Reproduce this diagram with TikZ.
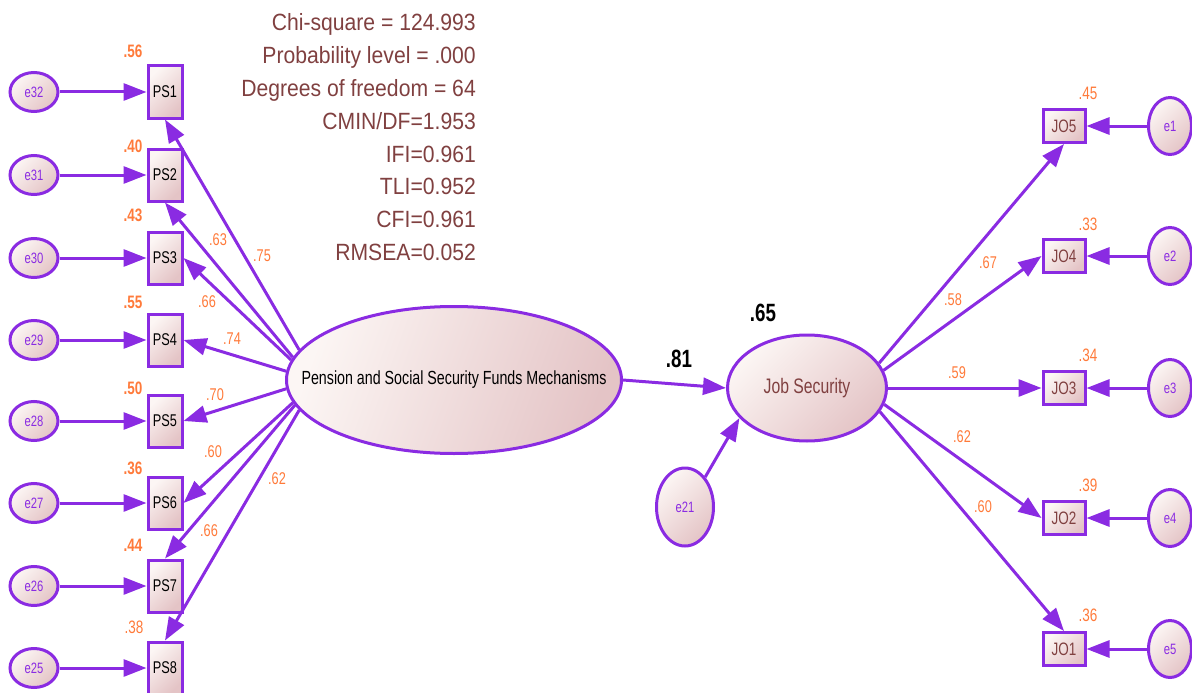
\documentclass[tikz,border=0pt]{standalone}
\usepackage{fontspec}
\setmainfont{Liberation Sans}
\newfontfamily\amos[FakeStretch=0.75]{Liberation Sans}
\newfontfamily\amosstat[FakeStretch=0.9]{Liberation Sans}
\usetikzlibrary{arrows.meta,shapes.geometric}
\newcommand\fsz[1]{\fontsize{#1}{#1}\selectfont}
\definecolor{amospurple}{RGB}{138,43,226}
\definecolor{amosorange}{RGB}{255,122,58}
\definecolor{amosbrown}{RGB}{128,64,64}
\definecolor{shadelight}{RGB}{252,246,244}
\definecolor{shadedark}{RGB}{228,196,198}
\tikzset{
  shadefill/.style={top color=shadelight, bottom color=shadedark, shading angle=45},
  obsbox/.style={rectangle, draw=amospurple, line width=3pt, shadefill, inner sep=0pt,
    minimum width=34pt, minimum height=52pt, text=black, font=\amos\fsz{17}},
  jobox/.style={obsbox, minimum width=42pt, minimum height=33pt, text=amosbrown, font=\amos\fsz{18}},
  errl/.style={ellipse, draw=amospurple, line width=3pt, shadefill, inner sep=0pt,
    minimum width=48pt, minimum height=39pt, text=amospurple, font=\amos\fsz{15}},
  errr/.style={errl, minimum width=43pt, minimum height=57pt},
  latent/.style={ellipse, draw=amospurple, line width=3pt, inner sep=0pt},
  link/.style={draw=amospurple, line width=3pt, -{Triangle[length=23pt,width=17pt]}},
  rsq/.style={text=amosorange, inner sep=0pt, font=\amos\bfseries\fsz{18}},
  rsqr/.style={text=amosorange, inner sep=0pt, font=\amos\fsz{18}},
  wt/.style={text=amosorange, inner sep=0pt, font=\amos\fsz{17}},
  bigwt/.style={text=black, inner sep=0pt, font=\amos\bfseries\fsz{25}},
  stat/.style={text=amosbrown, inner sep=0pt, anchor=base east, font=\amosstat\fsz{23.5}},
}
\begin{document}
\begin{tikzpicture}[x=1pt,y=-1pt]
\useasboundingbox (0,0) rectangle (1192,693);
\clip (0,0) rectangle (1192,693);

% fit statistics
\node[stat] (s1) at (476,31)  {Chi-square = 124.993};
\node[stat] (s2) at (476,63.5){Probability level = .000};
\node[stat] (s3) at (476,96)  {Degrees of freedom = 64};
\node[stat] (s4) at (476,129) {CMIN/DF=1.953};
\node[stat] (s5) at (476,162) {IFI=0.961};
\node[stat] (s6) at (476,194.5){TLI=0.952};
\node[stat] (s7) at (476,227) {CFI=0.961};
\node[stat] (s8) at (476,260) {RMSEA=0.052};

% latent variables (labels are set in zero-width boxes so the ellipses keep their size)
\node[latent, minimum width=335pt, minimum height=147pt,
      top color=shadelight, bottom color=shadedark, shading angle=70,
      font=\amos\fsz{19}] (pen) at (454,380)
      {\makebox[0pt]{Pension and Social Security Funds Mechanisms}};
\node[latent, minimum width=159pt, minimum height=106pt, shadefill,
      text=amosbrown, font=\amos\fsz{21}] (job) at (807,388) {\makebox[0pt]{Job Security}};
\node[errl, minimum width=57pt, minimum height=78pt] (e21) at (685,507) {e21};

% pension indicators and their errors
\foreach \i/\e/\y in {1/32/92, 2/31/175, 3/30/258, 4/29/340, 5/28/421, 6/27/503, 7/26/586, 8/25/668}{
  \node[obsbox] (ps\i) at (165,\y) {PS\i};
  \node[errl] (e\e) at (34,\y) {e\e};
  \draw[link] (e\e) -- (ps\i);
}

% job security indicators and their errors
\foreach \i/\e/\y in {5/1/126, 4/2/256, 3/3/388, 2/4/518, 1/5/649}{
  \node[jobox] (jo\i) at (1064,\y) {JO\i};
  \node[errr] (e\e) at (1170,\y) {e\e};
  \draw[link] (e\e) -- (jo\i);
}

% loadings of the pension factor
\draw[link] (pen.169) -- (ps1.south);
\draw[link] (pen.172) -- (ps2.south);
\draw[link] (pen.173) -- (ps3.east);
\draw[link] (pen.177) -- (ps4.east);
\draw[link] (pen.183) -- (ps5.east);
\draw[link] (pen.188) -- (ps6.east);
\draw[link] (pen.189.5) -- (ps7.north);
\draw[link] (pen.191) -- (ps8.north);

% structural path and disturbance
\draw[link] (pen.east) -- (job.west);
\draw[link] (e21.56) -- (job.204);

% loadings of job security
\draw[link] (job.19) -- (jo5.south);
\draw[link] (job.13) -- (jo4.west);
\draw[link] (job.east) -- (jo3.west);
\draw[link] (job.348) -- (jo2.west);
\draw[link] (job.342) -- (jo1.north);

% squared multiple correlations
\node[rsq] (r1) at (133,51)  {.56};
\node[rsq] (r2) at (133,146) {.40};
\node[rsq] (r3) at (133,215) {.43};
\node[rsq] (r4) at (133,302) {.55};
\node[rsq] (r5) at (133,388) {.50};
\node[rsq] (r6) at (133,468) {.36};
\node[rsq] (r7) at (133,545) {.44};
\node[rsqr] (r8) at (134,627) {.38};
\node[rsqr] (q5) at (1088,93)  {.45};
\node[rsqr] (q4) at (1088,224) {.33};
\node[rsqr] (q3) at (1088,355) {.34};
\node[rsqr] (q2) at (1088,485) {.39};
\node[rsqr] (q1) at (1088,615) {.36};
\node[bigwt] (rjob) at (763,313) {.65};

% standardized weights
\node[wt] (w1) at (262,256) {.75};
\node[wt] (w2) at (218,240) {.63};
\node[wt] (w3) at (207,302) {.66};
\node[wt] (w4) at (232,339) {.74};
\node[wt] (w5) at (215,395) {.70};
\node[wt] (w6) at (213,452) {.60};
\node[wt] (w7) at (277,479) {.62};
\node[wt] (w8) at (209,531) {.66};
\node[wt] (v5) at (988,263) {.67};
\node[wt] (v4) at (953,300) {.58};
\node[wt] (v3) at (957,373) {.59};
\node[wt] (v2) at (962,437) {.62};
\node[wt] (v1) at (983,507) {.60};
\node[bigwt] (wjob) at (679,359) {.81};
\end{tikzpicture}
\end{document}
